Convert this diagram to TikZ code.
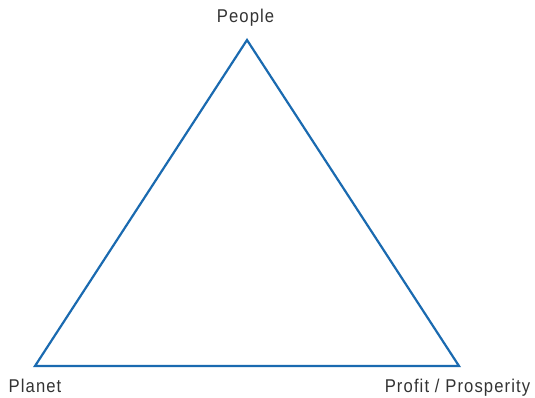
\documentclass[tikz,border=0pt]{standalone}
\usepackage{fontspec}
\setmainfont{Liberation Sans}[FakeStretch=0.9,LetterSpace=6]
\definecolor{triblue}{HTML}{1A6AB0}
\definecolor{labelgray}{HTML}{333333}
\begin{document}
\begin{tikzpicture}[x=1pt,y=-1pt,
  lbl/.style={text=labelgray,font=\fontsize{18.5}{22}\selectfont,inner sep=0pt,anchor=base},
  edge/.style={draw=triblue,line width=2.2pt,line join=miter}]
\useasboundingbox (0,0) rectangle (535,398);
\coordinate (top) at (247,40);
\coordinate (bl) at (35,366);
\coordinate (br) at (459,366);
\draw[edge] (top) -- (br) -- (bl) -- cycle;
\node[lbl] (people) at (245.5,22.7) {People};
\node[lbl] (planet) at (35,392) {Planet};
\node[lbl] (profit) at (457.5,392) {Profit / Prosperity};
\end{tikzpicture}
\end{document}
